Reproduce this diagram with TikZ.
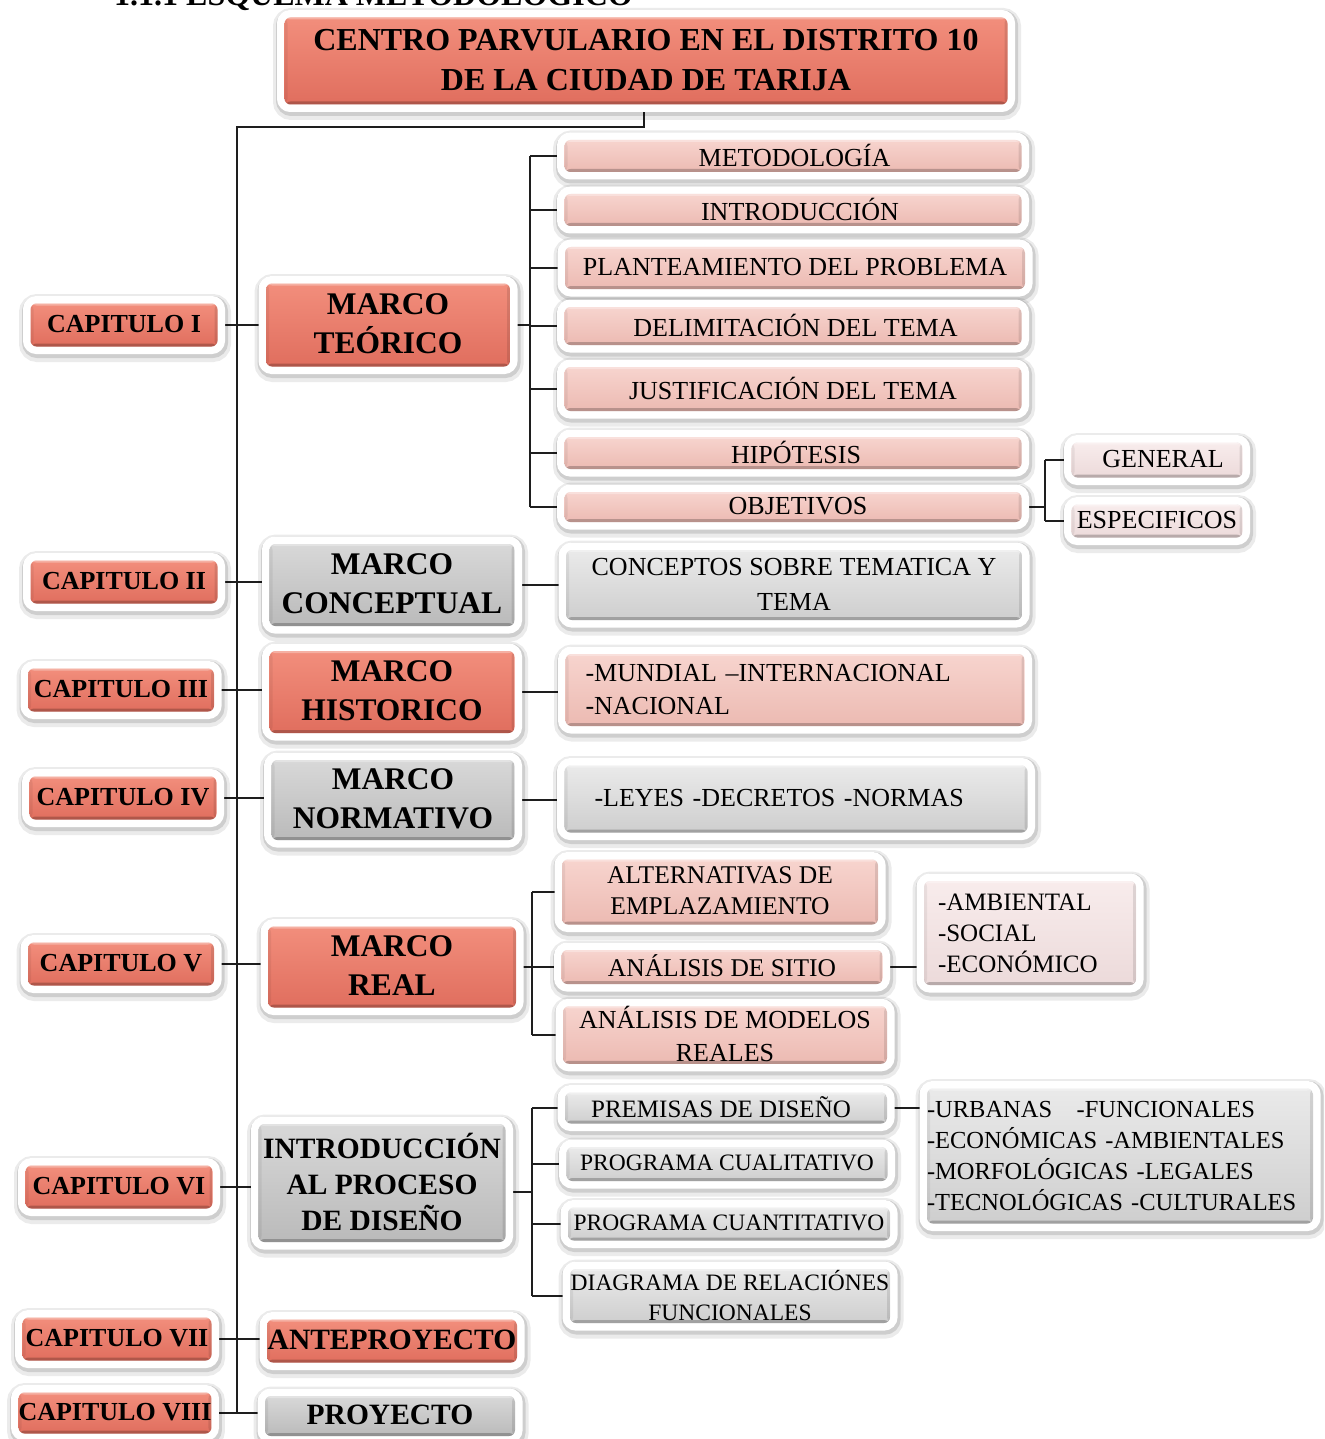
\documentclass[tikz,border=0pt]{standalone}
\usepackage{fontspec}
\setmainfont{Liberation Serif}
\usetikzlibrary{calc}
\pgfdeclarelayer{background}
\pgfsetlayers{background,main}
\definecolor{salT}{RGB}{242,142,124}
\definecolor{salB}{RGB}{224,110,94}
\definecolor{pinkT}{RGB}{247,212,206}
\definecolor{pinkB}{RGB}{236,186,178}
\definecolor{grayT}{RGB}{216,216,216}
\definecolor{grayB}{RGB}{186,186,186}
\definecolor{lgrayT}{RGB}{234,234,234}
\definecolor{lgrayB}{RGB}{206,206,206}
\definecolor{vpinkT}{RGB}{248,236,236}
\definecolor{vpinkB}{RGB}{236,218,218}
\definecolor{linecol}{RGB}{30,30,30}
\newcommand\fTitle{\fontsize{32}{40}\selectfont\bfseries}
\newcommand\fMarco{\fontsize{31.5}{39}\selectfont\bfseries}
\newcommand\fIntro{\fontsize{29.5}{36}\selectfont\bfseries}
\newcommand\fCap{\fontsize{26}{30}\selectfont\bfseries}
\newcommand\fReg{\fontsize{26}{34}\selectfont}
\newcommand\fSm{\fontsize{24.5}{31}\selectfont}
\newcommand\fXs{\fontsize{23.5}{30}\selectfont}
\tikzset{
  box/.style={rectangle, rounded corners=6pt, inner sep=0pt, align=center, text=black, text depth=0.22em,
    preaction={draw=black, opacity=.08, line width=25pt, transform canvas={xshift=1pt,yshift=-3pt}},
    preaction={draw=black, opacity=.12, line width=19pt, transform canvas={xshift=1pt,yshift=-2pt}},
    preaction={draw=white, line width=15pt},
    path picture={
      \fill[black,opacity=.22] (path picture bounding box.south west) rectangle ([yshift=3pt]path picture bounding box.south east);
      \fill[black,opacity=.10] (path picture bounding box.north east) rectangle ([xshift=-3pt]path picture bounding box.south east);
      \fill[black,opacity=.06] (path picture bounding box.north west) rectangle ([xshift=3pt]path picture bounding box.south west);
      \fill[white,opacity=.30] (path picture bounding box.north west) rectangle ([yshift=-2pt]path picture bounding box.north east);
    }},
  sal/.style={box, top color=salT, bottom color=salB},
  pnk/.style={box, top color=pinkT, bottom color=pinkB},
  gry/.style={box, top color=grayT, bottom color=grayB},
  lgry/.style={box, top color=lgrayT, bottom color=lgrayB},
  vpnk/.style={box, top color=vpinkT, bottom color=vpinkB},
  leftblock/.style={align=left, text depth={}},
  conn/.style={draw=linecol, line width=1.3pt},
}
\begin{document}
\begin{tikzpicture}[x=1pt,y=-1pt]
\useasboundingbox (0,0) rectangle (1324,1439);
\clip (0,0) rectangle (1324,1439);
\begin{pgfonlayer}{background}
  \fill[white] (0,0) rectangle (1324,1439);
\end{pgfonlayer}

% heading (cut off at the top)
\node[anchor=base west, inner sep=0pt, font=\fTitle] (head) at (114,6) {1.1.1 ESQUEMA METODOLÓGICO};

% title
\node[sal, minimum width=723pt, minimum height=87pt, font=\fTitle] (title) at (646,61)
  {CENTRO PARVULARIO EN EL DISTRITO 10\\DE LA CIUDAD DE TARIJA};

% chapters
\node[sal, minimum width=187pt, minimum height=43pt, font=\fCap] (cap1) at (124,325) {CAPITULO I};
\node[sal, minimum width=187pt, minimum height=43pt, font=\fCap] (cap2) at (124,582) {CAPITULO II};
\node[sal, minimum width=186pt, minimum height=43pt, font=\fCap] (cap3) at (121,690) {CAPITULO III};
\node[sal, minimum width=187pt, minimum height=43pt, font=\fCap] (cap4) at (123,798) {CAPITULO IV};
\node[sal, minimum width=186pt, minimum height=43pt, font=\fCap] (cap5) at (121,964) {CAPITULO V};
\node[sal, minimum width=187pt, minimum height=43pt, font=\fCap] (cap6) at (119,1187) {CAPITULO VI};
\node[sal, minimum width=189pt, minimum height=43pt, font=\fCap] (cap7) at (117,1339) {CAPITULO VII};
\node[sal, minimum width=190pt, minimum height=41pt, font=\fCap] (cap8) at (115,1413) {CAPITULO VIII};

% marcos
\node[sal, minimum width=244pt, minimum height=83pt, font=\fMarco] (m1) at (388,325) {MARCO\\TEÓRICO};
\node[gry, minimum width=245pt, minimum height=82pt, font=\fMarco] (m2) at (392,585) {MARCO\\CONCEPTUAL};
\node[sal, minimum width=245pt, minimum height=82pt, font=\fMarco] (m3) at (392,692) {MARCO\\HISTORICO};
\node[gry, minimum width=243pt, minimum height=80pt, font=\fMarco] (m4) at (393,800) {MARCO\\NORMATIVO};
\node[sal, minimum width=248pt, minimum height=81pt, font=\fMarco] (m5) at (392,967) {MARCO\\REAL};
\node[gry, minimum width=247pt, minimum height=118pt, font=\fIntro] (m6) at (382,1183) {INTRODUCCIÓN\\AL PROCESO\\DE DISEÑO};
\node[sal, minimum width=250pt, minimum height=43pt, font=\fIntro] (m7) at (392,1341) {ANTEPROYECTO};
\node[gry, minimum width=250pt, minimum height=40pt, font=\fIntro] (m8) at (390,1416) {PROYECTO};

% marco teorico children
\node[pnk, minimum width=457pt, minimum height=32pt, font=\fReg] (t1) at (793,156) {\hspace*{3pt}METODOLOGÍA};
\node[pnk, minimum width=457pt, minimum height=32pt, font=\fReg] (t2) at (793,210) {\hspace*{14pt}INTRODUCCIÓN};
\node[pnk, minimum width=460pt, minimum height=42pt, font=\fReg] (t3) at (795,268) {PLANTEAMIENTO DEL PROBLEMA};
\node[pnk, minimum width=457pt, minimum height=38pt, font=\fReg] (t4) at (793,326) {\hspace*{5pt}DELIMITACIÓN DEL TEMA};
\node[pnk, minimum width=457pt, minimum height=44pt, font=\fReg] (t5) at (793,389) {JUSTIFICACIÓN DEL TEMA};
\node[pnk, minimum width=457pt, minimum height=32pt, font=\fReg] (t6) at (793,453) {\hspace*{6pt}HIPÓTESIS};
\node[pnk, minimum width=457pt, minimum height=30pt, font=\fReg] (t7) at (793,507) {\hspace*{10pt}OBJETIVOS};
\node[vpnk, minimum width=171pt, minimum height=35pt, font=\fReg] (g1) at (1157,460) {\hspace*{12pt}GENERAL};
\node[vpnk, minimum width=171pt, minimum height=33pt, font=\fReg] (g2) at (1157,521) {ESPECIFICOS};

% other marcos children
\node[lgry, minimum width=456pt, minimum height=70pt, font=\fontsize{26}{35}\selectfont] (c2) at (794,585) {CONCEPTOS SOBRE TEMATICA Y\\TEMA};
\node[pnk, leftblock, minimum width=459pt, minimum height=72pt, text width=419pt, font=\fontsize{26}{33}\selectfont] (c3) at (795,690) {-MUNDIAL –INTERNACIONAL\\-NACIONAL};
\node[lgry, minimum width=463pt, minimum height=67pt, text width=403pt, align=left, font=\fReg] (c4) at (796,799) {-LEYES -DECRETOS -NORMAS};

% marco real children
\node[pnk, minimum width=316pt, minimum height=65pt, font=\fontsize{25.5}{31}\selectfont] (r1) at (720,892) {ALTERNATIVAS DE\\EMPLAZAMIENTO};
\node[pnk, minimum width=321pt, minimum height=34pt, font=\fontsize{25.5}{31}\selectfont] (r2) at (722,967) {ANÁLISIS DE SITIO};
\node[pnk, minimum width=324pt, minimum height=53pt, font=\fontsize{26}{33}\selectfont] (r3) at (725,1035) {ANÁLISIS DE MODELOS\\REALES};
\node[vpnk, leftblock, minimum width=212pt, minimum height=104pt, text width=184pt, font=\fontsize{25}{31}\selectfont] (amb) at (1030,933) {-AMBIENTAL\\-SOCIAL\\-ECONÓMICO};

% intro children
\node[lgry, minimum width=322pt, minimum height=31pt, font=\fontsize{25}{30}\selectfont] (i1) at (726,1108) {PREMISAS DE DISEÑO\hspace*{10pt}};
\node[lgry, minimum width=321pt, minimum height=34pt, font=\fXs] (i2) at (727,1164) {PROGRAMA CUALITATIVO};
\node[lgry, minimum width=322pt, minimum height=33pt, font=\fXs] (i3) at (729,1224) {PROGRAMA CUANTITATIVO};
\node[lgry, minimum width=320pt, minimum height=54pt, font=\fXs] (i4) at (730,1296) {DIAGRAMA DE RELACIÓNES\\FUNCIONALES};
\node[lgry, leftblock, minimum width=386pt, minimum height=135pt, text width=386pt, font=\fontsize{24.5}{31}\selectfont] (urb) at (1120,1156)
  {-URBANAS\ \ \ -FUNCIONALES\\-ECONÓMICAS -AMBIENTALES\\-MORFOLÓGICAS -LEGALES\\-TECNOLÓGICAS -CULTURALES};

% junction coordinates
\coordinate (tj) at (644,127);
\coordinate (tt) at (237,127);
\coordinate (tb) at (237,1413);
\coordinate (b1t) at (530,156);
\coordinate (b1b) at (530,507);
\coordinate (b2t) at (1045,460);
\coordinate (b2b) at (1045,521);
\coordinate (b3t) at (532,892);
\coordinate (b3b) at (532,1035);
\coordinate (b4t) at (532,1108);
\coordinate (b4b) at (532,1296);
\coordinate (b4m) at (532,1192);

\begin{pgfonlayer}{background}
  % trunk
  \draw[conn] (title.south -| tj) -- (tj) -- (tt) -- (tb);
  % chapters to marcos
  \foreach \k in {1,...,8} {\draw[conn] (cap\k.east) -- (cap\k.east -| m\k.west);}
  % marco teorico bracket
  \draw[conn] (b1t) -- (b1b);
  \draw[conn] (m1.east) -- (m1.east -| b1t);
  \foreach \k in {1,...,7} {\draw[conn] (t\k.west -| b1t) -- (t\k.west);}
  % objetivos
  \draw[conn] (t7.east) -- (t7.east -| b2t);
  \draw[conn] (b2t) -- (b2b);
  \draw[conn] (b2t) -- (g1.west);
  \draw[conn] (b2b) -- (g2.west);
  % single children
  \draw[conn] (m2.east) -- (m2.east -| c2.west);
  \draw[conn] (m3.east) -- (m3.east -| c3.west);
  \draw[conn] (m4.east) -- (m4.east -| c4.west);
  % marco real bracket
  \draw[conn] (b3t) -- (b3b);
  \draw[conn] (m5.east) -- (m5.east -| b3t);
  \foreach \k in {1,2,3} {\draw[conn] (r\k.west -| b3t) -- (r\k.west);}
  \draw[conn] (r2.east) -- (r2.east -| amb.west);
  % intro bracket
  \draw[conn] (b4t) -- (b4b);
  \draw[conn] (m6.east |- b4m) -- (b4m);
  \foreach \k in {1,...,4} {\draw[conn] (i\k.west -| b4t) -- (i\k.west);}
  \draw[conn] (i1.east) -- (i1.east -| urb.west);
\end{pgfonlayer}
\end{tikzpicture}
\end{document}
